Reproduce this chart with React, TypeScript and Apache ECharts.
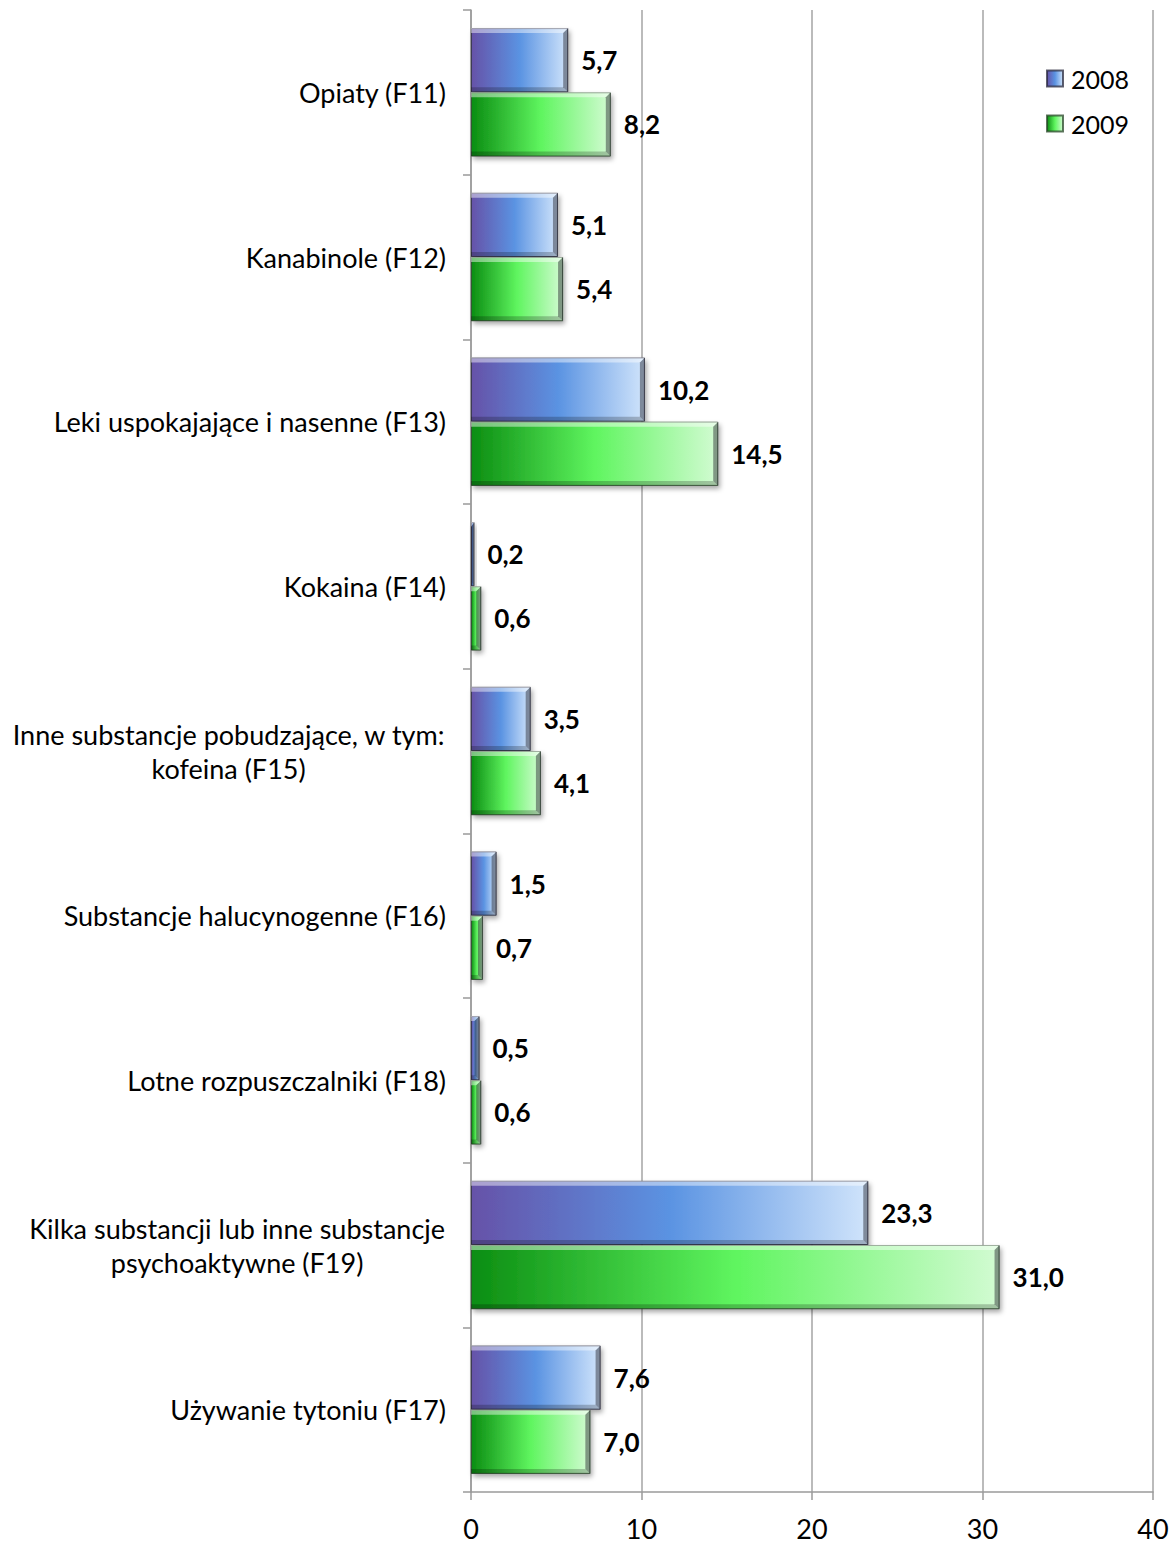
import React, { useEffect, useRef } from "react";
import * as echarts from "echarts";

const categories = [
  "Opiaty (F11)",
  "Kanabinole (F12)",
  "Leki uspokajające i nasenne (F13)",
  "Kokaina (F14)",
  "Inne substancje pobudzające, w tym:\nkofeina (F15)",
  "Substancje halucynogenne (F16)",
  "Lotne rozpuszczalniki (F18)",
  "Kilka substancji lub inne substancje\npsychoaktywne (F19)",
  "Używanie tytoniu (F17)",
];
const values2008 = [5.7, 5.1, 10.2, 0.2, 3.5, 1.5, 0.5, 23.3, 7.6];
const values2009 = [8.2, 5.4, 14.5, 0.6, 4.1, 0.7, 0.6, 31.0, 7.0];
const seriesNames = ["2008", "2009"];
const xTicks = { min: 0, max: 40, interval: 10 };

const FONT = "Lato, 'Noto Sans', sans-serif";
const CAT_SIZE = 27;
const GAP = 0.22;

function measure(text: string, size: number): number {
  const c = document.createElement("canvas");
  const ctx = c.getContext("2d");
  if (!ctx) return text.length * size * 0.5;
  ctx.font = `${size}px Lato`;
  return ctx.measureText(text).width;
}

export default function App() {
  const ref = useRef<HTMLDivElement>(null);
  useEffect(() => {
    if (!ref.current) return;
    const chart = echarts.init(ref.current, undefined, { renderer: "svg" });
    const blue = new echarts.graphic.LinearGradient(0, 0, 1, 0, [
      { offset: 0, color: "#6652a8" },
      { offset: 0.5, color: "#5a93e2" },
      { offset: 1, color: "#d0e4fb" },
    ]);
    const green = new echarts.graphic.LinearGradient(0, 0, 1, 0, [
      { offset: 0, color: "#0b8d12" },
      { offset: 0.5, color: "#5ff55f" },
      { offset: 1, color: "#d2fbd2" },
    ]);
    const fmt = (p: any) => Number(p.value).toFixed(1).replace(".", ",");
    const labelCfg = {
      show: true,
      position: "right",
      distance: 13,
      color: "#000",
      fontWeight: "bold",
      fontSize: 26,
      fontFamily: FONT,
      formatter: fmt,
    };
    const itemBase = {
      borderColor: "rgba(40,40,60,0.75)",
      borderWidth: 1,
      shadowColor: "rgba(0,0,0,0.35)",
      shadowBlur: 5,
      shadowOffsetX: 2,
      shadowOffsetY: 3,
    };
    const widths: Record<string, number> = {};
    categories.forEach((c) => {
      if (c.includes("\n")) {
        widths[c] = Math.max(...c.split("\n").map((l) => measure(l, CAT_SIZE)));
      }
    });
    const rich: any = {};
    let ri = 0;
    const richKey: Record<string, string> = {};
    categories.forEach((c) => {
      if (widths[c]) {
        const k = "m" + ri++;
        richKey[c] = k;
        rich[k] = {
          width: widths[c] + 2,
          align: "center",
          fontSize: CAT_SIZE,
          lineHeight: 34,
          fontFamily: FONT,
          color: "#000",
        };
      }
    });
    const bevelData: number[][] = [];
    values2008.forEach((v, i) => bevelData.push([v, i, 0]));
    values2009.forEach((v, i) => bevelData.push([v, i, 1]));

    const renderBevel = (params: any, api: any) => {
      const v = api.value(0);
      const c = api.value(1);
      const s = api.value(2);
      const p0 = api.coord([0, c]);
      const p1 = api.coord([v, c]);
      const band = api.size([0, 1])[1];
      const bw = (band * (1 - GAP)) / 2;
      const y0 = p0[1] - bw + s * bw;
      const y1 = y0 + bw;
      const x0 = p0[0];
      const x1 = p1[0];
      const e = Math.min(5, Math.max(0, x1 - x0));
      const eh = 5;
      return {
        type: "group",
        silent: true,
        children: [
          {
            type: "polygon",
            shape: { points: [[x0, y0], [x1, y0], [x1 - e, y0 + eh], [x0, y0 + eh]] },
            style: { fill: "rgba(255,255,255,0.45)" },
          },
          {
            type: "polygon",
            shape: { points: [[x0, y1], [x1, y1], [x1 - e, y1 - eh], [x0, y1 - eh]] },
            style: { fill: "rgba(0,0,0,0.22)" },
          },
          {
            type: "polygon",
            shape: { points: [[x1, y0], [x1, y1], [x1 - e, y1 - eh], [x1 - e, y0 + eh]] },
            style: { fill: "rgba(30,30,40,0.45)" },
          },
        ],
      };
    };

    chart.setOption({
      animation: false,
      backgroundColor: "#fff",
      grid: { left: 471, right: 19, top: 10, bottom: 56 },
      legend: {
        orient: "vertical",
        right: 38,
        top: 61,
        itemWidth: 16,
        itemHeight: 16,
        itemGap: 20,
        icon: "rect",
        textStyle: { fontSize: 25, fontFamily: FONT, color: "#000", padding: [0, 0, 0, 3] },
        data: seriesNames,
      },
      xAxis: {
        type: "value",
        min: xTicks.min,
        max: xTicks.max,
        interval: xTicks.interval,
        axisLine: { show: true, lineStyle: { color: "#9a9a9a", width: 1.5 } },
        axisTick: { show: true, length: 8, lineStyle: { color: "#9a9a9a", width: 1.5 } },
        splitLine: { show: true, lineStyle: { color: "#a5a5a5", width: 1.5 } },
        axisLabel: { fontSize: 27, fontFamily: FONT, color: "#000", margin: 23 },
      },
      yAxis: {
        type: "category",
        inverse: true,
        data: categories,
        axisLine: { show: true, lineStyle: { color: "#9a9a9a", width: 1.5 } },
        axisTick: { show: true, length: 8, lineStyle: { color: "#9a9a9a", width: 1.5 } },
        axisLabel: {
          fontSize: CAT_SIZE,
          fontFamily: FONT,
          color: "#000",
          margin: 25,
          lineHeight: 34,
          rich,
          formatter: (v: string) => {
            const k = richKey[v];
            if (!k) return v;
            return v
              .split("\n")
              .map((l) => `{${k}|${l}}`)
              .join("\n");
          },
        },
      },
      series: [
        {
          name: seriesNames[0],
          type: "bar",
          data: values2008,
          barGap: "0%",
          barCategoryGap: GAP * 100 + "%",
          itemStyle: { ...itemBase, color: blue },
          label: labelCfg,
        },
        {
          name: seriesNames[1],
          type: "bar",
          data: values2009,
          barGap: "0%",
          barCategoryGap: GAP * 100 + "%",
          itemStyle: { ...itemBase, color: green, borderColor: "rgba(40,70,40,0.75)" },
          label: labelCfg,
        },
        {
          name: "bevel",
          type: "custom",
          silent: true,
          z: 3,
          data: bevelData,
          encode: { x: 0, y: 1 },
          renderItem: renderBevel,
          tooltip: { show: false },
        },
      ],
    });
    return () => chart.dispose();
  }, []);
  return (
    <div
      ref={ref}
      style={{ position: "absolute", left: 0, top: 0, width: 1172, height: 1548 }}
    />
  );
}
